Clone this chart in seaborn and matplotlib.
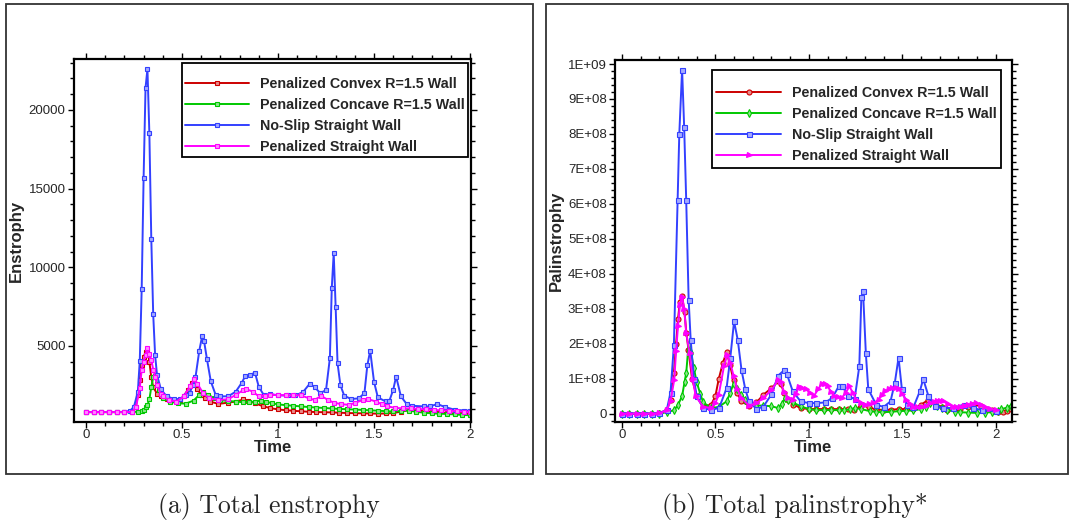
import matplotlib
matplotlib.use("Agg")
import matplotlib.pyplot as plt
import matplotlib.colors as mcolors
import numpy as np
import seaborn as sns
from matplotlib.patches import Rectangle
from matplotlib.ticker import MultipleLocator, FuncFormatter

# ---------------------------------------------------------------- data
LABELS = [
    "Penalized Convex R=1.5 Wall",
    "Penalized Concave R=1.5 Wall",
    "No-Slip Straight Wall",
    "Penalized Straight Wall",
]
COLORS = ["#cc0000", "#00c800", "#3340ff", "#ff00ff"]

# Total enstrophy: (time, enstrophy)
ENS_CONVEX = [
    (0.00, 800), (0.04, 800), (0.08, 800), (0.12, 800), (0.16, 800), (0.20, 800),
    (0.24, 820), (0.26, 1150), (0.27, 1900), (0.28, 2850), (0.29, 3800), (0.30, 4300),
    (0.31, 4600), (0.32, 4700), (0.33, 4000), (0.34, 3000), (0.35, 2400), (0.37, 1950),
    (0.39, 1790), (0.42, 1600), (0.46, 1550), (0.49, 1550), (0.51, 1850), (0.53, 2200),
    (0.55, 2650), (0.565, 2750), (0.58, 2250), (0.60, 1900), (0.62, 1700), (0.645, 1470),
    (0.69, 1320), (0.74, 1400), (0.78, 1470), (0.82, 1600), (0.845, 1530), (0.88, 1360),
    (0.92, 1180), (0.96, 1050), (1.00, 970), (1.04, 920), (1.08, 880), (1.12, 850),
    (1.16, 820), (1.20, 800), (1.24, 790), (1.28, 780), (1.32, 760), (1.36, 740),
    (1.40, 730), (1.44, 720), (1.48, 710), (1.52, 700), (1.56, 710), (1.60, 740),
    (1.64, 830), (1.68, 920), (1.72, 900), (1.76, 860), (1.80, 810), (1.84, 770),
    (1.88, 730), (1.92, 710), (1.96, 700), (2.00, 680),
]
ENS_CONCAVE = [
    (0.00, 800), (0.04, 800), (0.08, 800), (0.12, 800), (0.16, 800), (0.20, 800),
    (0.24, 800), (0.27, 820), (0.29, 870), (0.30, 950), (0.31, 1100), (0.32, 1250),
    (0.33, 1600), (0.34, 2400), (0.35, 3000), (0.36, 3100), (0.37, 2600), (0.38, 2200),
    (0.40, 1700), (0.44, 1470), (0.48, 1350), (0.52, 1340), (0.56, 1530), (0.59, 1890),
    (0.61, 2100), (0.635, 1890), (0.67, 1680), (0.70, 1560), (0.74, 1500), (0.78, 1470),
    (0.82, 1420), (0.85, 1430), (0.88, 1470), (0.91, 1530), (0.94, 1450), (0.97, 1360),
    (1.00, 1290), (1.04, 1240), (1.08, 1200), (1.12, 1160), (1.16, 1120), (1.20, 1090),
    (1.24, 1060), (1.28, 1030), (1.32, 1000), (1.36, 980), (1.40, 960), (1.44, 940),
    (1.48, 910), (1.52, 890), (1.56, 860), (1.60, 840), (1.64, 870), (1.68, 900),
    (1.72, 820), (1.76, 760), (1.80, 720), (1.84, 700), (1.88, 680), (1.92, 650),
    (1.96, 620), (2.00, 600),
]
ENS_NOSLIP = [
    (0.00, 800), (0.04, 800), (0.08, 800), (0.12, 800), (0.16, 800), (0.20, 810),
    (0.23, 880), (0.25, 1150), (0.27, 2100), (0.28, 4050), (0.29, 8600), (0.30, 15700),
    (0.31, 21400), (0.32, 22600), (0.33, 18500), (0.34, 11800), (0.35, 7000), (0.36, 4400),
    (0.37, 3150), (0.39, 2250), (0.42, 1800), (0.46, 1630), (0.49, 1630), (0.52, 1900),
    (0.54, 2000), (0.555, 2500), (0.57, 3000), (0.59, 4700), (0.605, 5640), (0.615, 5300),
    (0.63, 4160), (0.65, 2750), (0.675, 1900), (0.70, 1800), (0.74, 1800), (0.78, 2100),
    (0.81, 2640), (0.83, 3100), (0.855, 3170), (0.88, 3300), (0.90, 2400), (0.925, 1900),
    (0.96, 1950), (1.00, 1860), (1.05, 1860), (1.09, 1860), (1.13, 2070), (1.165, 2600),
    (1.19, 2400), (1.22, 2000), (1.25, 2200), (1.27, 4220), (1.28, 8700), (1.29, 10900),
    (1.30, 7500), (1.31, 3900), (1.325, 2500), (1.345, 1840), (1.38, 1630), (1.42, 1670),
    (1.45, 2000), (1.465, 3760), (1.48, 4700), (1.50, 2720), (1.52, 1730), (1.56, 1480),
    (1.58, 1520), (1.60, 2220), (1.615, 3060), (1.64, 1800), (1.67, 1310), (1.70, 1200),
    (1.76, 1160), (1.79, 1160), (1.83, 1310), (1.87, 1120), (1.92, 950), (1.97, 900),
    (2.00, 900),
]
ENS_STRAIGHT = [
    (0.00, 800), (0.04, 800), (0.08, 800), (0.12, 800), (0.16, 800), (0.20, 800),
    (0.24, 810), (0.26, 1100), (0.28, 2300), (0.29, 3490), (0.30, 4000), (0.31, 4450),
    (0.32, 4870), (0.33, 4500), (0.34, 4130), (0.35, 3500), (0.36, 3060), (0.37, 2500),
    (0.39, 1950), (0.40, 1790), (0.43, 1570), (0.47, 1470), (0.51, 1790), (0.54, 2430),
    (0.565, 2890), (0.58, 2600), (0.61, 2000), (0.64, 1680), (0.69, 1570), (0.74, 1620),
    (0.78, 1890), (0.82, 2210), (0.835, 2250), (0.87, 2100), (0.90, 1790), (0.93, 1850),
    (0.96, 1890), (1.00, 1890), (1.04, 1860), (1.08, 1870), (1.12, 1860), (1.16, 1680),
    (1.19, 1570), (1.225, 1830), (1.26, 1570), (1.29, 1400), (1.33, 1300), (1.37, 1260),
    (1.40, 1380), (1.44, 1560), (1.47, 1620), (1.51, 1470), (1.54, 1300), (1.57, 1170),
    (1.61, 1060), (1.65, 1040), (1.69, 1030), (1.73, 1000), (1.77, 970), (1.81, 940),
    (1.85, 910), (1.89, 890), (1.93, 860), (1.97, 830), (2.00, 790),
]

# Total palinstrophy: (time, palinstrophy in units of 1E+08)
PAL_UNIT = 1e8
PAL_CONVEX = [
    (0.00, 0), (0.04, 0), (0.08, 0), (0.12, 0), (0.16, 0), (0.20, 0.01),
    (0.24, 0.1), (0.26, 0.4), (0.278, 1.16), (0.29, 2.0), (0.30, 2.7), (0.31, 3.2),
    (0.322, 3.37), (0.335, 2.9), (0.345, 2.3), (0.356, 1.83), (0.375, 1.0), (0.40, 0.5),
    (0.435, 0.19), (0.478, 0.26), (0.50, 0.5), (0.518, 0.99), (0.54, 1.45), (0.56, 1.76),
    (0.578, 1.4), (0.597, 0.95), (0.618, 0.6), (0.638, 0.35), (0.68, 0.23), (0.72, 0.32),
    (0.757, 0.54), (0.80, 0.73), (0.836, 0.92), (0.85, 0.85), (0.868, 0.59), (0.89, 0.4),
    (0.917, 0.26), (0.956, 0.16), (1.00, 0.13), (1.04, 0.13), (1.08, 0.13), (1.12, 0.13),
    (1.16, 0.13), (1.21, 0.13), (1.24, 0.09), (1.28, 0.23), (1.32, 0.19), (1.36, 0.11),
    (1.40, 0.11), (1.44, 0.11), (1.48, 0.13), (1.52, 0.13), (1.56, 0.13), (1.60, 0.25),
    (1.64, 0.4), (1.676, 0.29), (1.71, 0.18), (1.74, 0.11), (1.78, 0.12), (1.81, 0.13),
    (1.85, 0.2), (1.88, 0.26), (1.92, 0.21), (1.95, 0.14), (1.98, 0.1), (2.01, 0.06),
    (2.04, 0.05), (2.06, 0.08), (2.08, 0.12),
]
PAL_CONCAVE = [
    (0.00, 0), (0.04, 0), (0.08, 0), (0.12, 0), (0.16, 0), (0.20, 0),
    (0.24, 0.04), (0.28, 0.1), (0.30, 0.25), (0.322, 0.5), (0.335, 0.9), (0.344, 1.16),
    (0.357, 2.0), (0.37, 1.73), (0.385, 1.3), (0.40, 0.9), (0.42, 0.55), (0.435, 0.32),
    (0.478, 0.16), (0.518, 0.19), (0.56, 0.35), (0.58, 0.6), (0.597, 0.86), (0.618, 0.7),
    (0.638, 0.54), (0.66, 0.4), (0.68, 0.29), (0.72, 0.23), (0.757, 0.23), (0.80, 0.21),
    (0.836, 0.16), (0.855, 0.28), (0.873, 0.45), (0.89, 0.4), (0.914, 0.32), (0.956, 0.21),
    (1.00, 0.13), (1.04, 0.1), (1.08, 0.1), (1.12, 0.1), (1.16, 0.1), (1.19, 0.1),
    (1.22, 0.12), (1.245, 0.16), (1.28, 0.13), (1.327, 0.07), (1.36, 0.05), (1.39, 0.04),
    (1.44, 0.05), (1.48, 0.07), (1.52, 0.08), (1.56, 0.09), (1.60, 0.13), (1.625, 0.2),
    (1.65, 0.3), (1.686, 0.23), (1.71, 0.15), (1.74, 0.1), (1.78, 0.06), (1.81, 0.04),
    (1.85, 0.03), (1.90, 0.02), (1.94, 0.03), (1.98, 0.04), (2.01, 0.08), (2.03, 0.13),
    (2.06, 0.17), (2.08, 0.23),
]
PAL_NOSLIP = [
    (0.00, 0), (0.04, 0), (0.08, 0), (0.12, 0), (0.16, 0), (0.20, 0.01),
    (0.24, 0.11), (0.26, 0.6), (0.278, 1.95), (0.298, 6.1), (0.307, 8.0), (0.322, 9.84),
    (0.333, 8.2), (0.344, 6.1), (0.357, 3.26), (0.368, 2.1), (0.385, 1.0), (0.40, 0.5),
    (0.435, 0.16), (0.478, 0.11), (0.52, 0.16), (0.56, 0.73), (0.58, 1.6), (0.60, 2.64),
    (0.62, 2.1), (0.64, 1.24), (0.66, 0.7), (0.68, 0.35), (0.72, 0.13), (0.757, 0.2),
    (0.80, 0.55), (0.836, 1.09), (0.868, 1.24), (0.882, 1.14), (0.914, 0.64), (0.956, 0.35),
    (1.00, 0.3), (1.04, 0.3), (1.088, 0.32), (1.125, 0.45), (1.16, 0.78), (1.18, 0.78),
    (1.21, 0.5), (1.245, 0.42), (1.27, 1.35), (1.281, 3.34), (1.29, 3.5), (1.305, 1.73),
    (1.318, 0.7), (1.36, 0.26), (1.40, 0.19), (1.437, 0.35), (1.46, 0.88), (1.48, 1.6),
    (1.498, 0.69), (1.524, 0.26), (1.56, 0.19), (1.594, 0.64), (1.612, 0.99), (1.64, 0.5),
    (1.676, 0.21), (1.72, 0.16), (1.77, 0.16), (1.83, 0.26), (1.88, 0.16), (1.925, 0.1),
    (2.00, 0.07),
]
PAL_STRAIGHT = [
    (0.00, 0), (0.04, 0), (0.08, 0), (0.12, 0), (0.16, 0), (0.20, 0.01),
    (0.24, 0.1), (0.26, 0.35), (0.28, 0.97), (0.29, 1.8), (0.30, 2.5), (0.31, 3.1),
    (0.322, 3.34), (0.333, 3.0), (0.344, 2.3), (0.362, 1.73), (0.378, 1.0), (0.395, 0.5),
    (0.435, 0.19), (0.478, 0.16), (0.50, 0.3), (0.518, 0.54), (0.546, 1.35), (0.564, 1.69),
    (0.58, 1.45), (0.597, 1.09), (0.618, 0.7), (0.638, 0.45), (0.68, 0.23), (0.72, 0.3),
    (0.757, 0.45), (0.80, 0.67), (0.836, 0.97), (0.85, 0.9), (0.868, 0.61), (0.89, 0.45),
    (0.914, 0.4), (0.93, 0.55), (0.947, 0.76), (0.965, 0.73), (0.987, 0.69), (1.008, 0.58),
    (1.028, 0.51), (1.05, 0.7), (1.07, 0.86), (1.085, 0.84), (1.10, 0.78), (1.12, 0.62),
    (1.135, 0.51), (1.155, 0.47), (1.176, 0.45), (1.198, 0.6), (1.217, 0.78), (1.235, 0.6),
    (1.254, 0.4), (1.277, 0.3), (1.30, 0.26), (1.322, 0.27), (1.345, 0.29), (1.373, 0.4),
    (1.39, 0.52), (1.41, 0.64), (1.428, 0.7), (1.447, 0.73), (1.465, 0.72), (1.483, 0.69),
    (1.50, 0.56), (1.52, 0.4), (1.54, 0.28), (1.557, 0.19), (1.58, 0.18), (1.60, 0.19),
    (1.625, 0.23), (1.65, 0.29), (1.67, 0.33), (1.686, 0.35), (1.70, 0.36), (1.72, 0.35),
    (1.745, 0.27), (1.77, 0.19), (1.79, 0.18), (1.81, 0.19), (1.83, 0.23), (1.85, 0.26),
    (1.875, 0.28), (1.897, 0.29), (1.92, 0.24), (1.943, 0.19), (1.97, 0.14), (2.00, 0.1),
]

ENS_SERIES = [ENS_CONVEX, ENS_CONCAVE, ENS_NOSLIP, ENS_STRAIGHT]
PAL_SERIES = [PAL_CONVEX, PAL_CONCAVE, PAL_NOSLIP, PAL_STRAIGHT]
ENS_MARKERS = ["s", "s", "s", "s"]
PAL_MARKERS = ["o", "d", "s", ">"]
CAPTIONS = ["(a) Total enstrophy", "(b) Total palinstrophy*"]

# ---------------------------------------------------------------- style
sns.set_style("white")
plt.rcParams["font.family"] = ["Liberation Sans", "DejaVu Sans"]

W, H = 1073, 524
fig = plt.figure(figsize=(W / 100, H / 100), dpi=100, facecolor="white")


def axes_px(left, top, right, bottom):
    return fig.add_axes([left / W, 1 - bottom / H, (right - left) / W, (bottom - top) / H])


def box_px(left, top, right, bottom):
    fig.add_artist(Rectangle((left / W, 1 - bottom / H), (right - left) / W,
                             (bottom - top) / H, transform=fig.transFigure,
                             fill=False, lw=1.3, ec="#333333"))


def lighten(c, amt=0.55):
    r, g, b = mcolors.to_rgb(c)
    return (r + (1 - r) * amt, g + (1 - g) * amt, b + (1 - b) * amt)


def draw_series(ax, series, markers, scale, ms):
    for pts, lab, col, mk in zip(series, LABELS, COLORS, markers):
        t = np.array([p[0] for p in pts])
        v = np.array([p[1] for p in pts]) * scale
        face = col if mk == ">" else lighten(col)
        sns.lineplot(x=t, y=v, ax=ax, color=col, linewidth=1.4, label=lab,
                     marker=mk, markersize=ms, markeredgecolor=col,
                     markerfacecolor=face, markeredgewidth=0.8,
                     sort=False, estimator=None)


def style_axes(ax, ylabel, label_x):
    for sp in ax.spines.values():
        sp.set_visible(True)
        sp.set_linewidth(1.6)
        sp.set_color("black")
    ax.tick_params(which="both", direction="out", top=True, right=True,
                   bottom=True, left=True, width=1.0, color="black",
                   labelsize=9.5)
    ax.tick_params(axis="x", pad=0.5)
    ax.tick_params(axis="y", pad=1.5)
    ax.tick_params(which="major", length=4.5)
    ax.tick_params(which="minor", length=2.8)
    ax.xaxis.set_major_locator(MultipleLocator(0.5))
    ax.xaxis.set_minor_locator(MultipleLocator(0.1))
    ax.xaxis.set_major_formatter(FuncFormatter(lambda v, p: f"{v:g}"))
    ax.set_xlabel("Time", fontsize=12, fontweight="bold")
    ax.set_ylabel(ylabel, fontsize=12, fontweight="bold")
    ax.xaxis.set_label_coords(0.5, -0.05)
    ax.yaxis.set_label_coords(label_x, 0.5)
    ax.grid(False)


def legend(ax, anchor, pad):
    # a blank title line leaves the wider gap above the first entry
    leg = ax.legend(loc="upper right", bbox_to_anchor=anchor, borderaxespad=0,
                    prop={"weight": "bold", "size": 10.3}, frameon=True,
                    fancybox=False, framealpha=1, edgecolor="black",
                    handlelength=4.5, handletextpad=0.75, labelspacing=0.5,
                    borderpad=pad, numpoints=1,
                    title=" ", title_fontsize=2)
    leg.get_frame().set_linewidth(1.3)


def sci_label(v, pos):
    if v == 0:
        return "0"
    e = int(np.floor(np.log10(abs(v)) + 1e-9))
    m = v / 10 ** e
    return f"{m:g}E+{e:02d}"


# ---------------------------------------------------------------- panels
box_px(6, 4, 533, 474)
box_px(546, 4, 1068, 474)

ax1 = axes_px(74, 59, 471, 422)
draw_series(ax1, ENS_SERIES, ENS_MARKERS, 1.0, 3.4)
ax1.set_xlim(-0.0625, 2.005)
ax1.set_ylim(170, 23230)
style_axes(ax1, "Enstrophy", -0.126)
ax1.yaxis.set_major_locator(MultipleLocator(5000))
ax1.yaxis.set_minor_locator(MultipleLocator(1000))
ax1.yaxis.set_major_formatter(FuncFormatter(lambda v, p: f"{v:.0f}"))
legend(ax1, (0.992, 0.989), 0.2)

ax2 = axes_px(615, 60, 1012, 422)
draw_series(ax2, PAL_SERIES, PAL_MARKERS, PAL_UNIT, 3.6)
ax2.set_xlim(-0.037, 2.087)
ax2.set_ylim(-2.4e7, 1.0115e9)
style_axes(ax2, "Palinstrophy", -0.128)
ax2.yaxis.set_major_locator(MultipleLocator(1e8))
ax2.yaxis.set_minor_locator(MultipleLocator(2e7))
ax2.yaxis.set_major_formatter(FuncFormatter(sci_label))
ax2.yaxis.get_offset_text().set_visible(False)
legend(ax2, (0.972, 0.972), 0.32)

for cx, text in zip([269, 795], CAPTIONS):
    fig.text(cx / W, 1 - 506 / H, text, ha="center", va="center",
             fontsize=18.5, family=["cmr10", "DejaVu Serif"])

fig.savefig("out.png", dpi=100, facecolor="white")
